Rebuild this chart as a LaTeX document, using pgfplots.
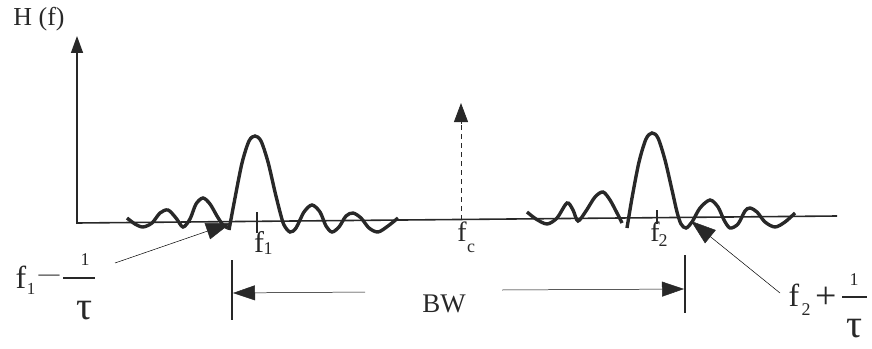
\documentclass[border=0pt]{standalone}
\usepackage{fontspec}
\setmainfont{Liberation Serif}
\usepackage{pgfplots}
\pgfplotsset{compat=1.18}
\usetikzlibrary{arrows.meta}
\definecolor{ink}{RGB}{40,40,40}
\definecolor{thin}{RGB}{140,140,140}
\newcommand{\fs}[1]{\fontsize{#1}{#1}\selectfont}
\begin{document}
\begin{tikzpicture}
\begin{axis}[
  scale only axis, width=872bp, height=349bp,
  xmin=0, xmax=872, ymin=0, ymax=349, y dir=reverse,
  hide axis, clip=false,
]
% baseline and y axis
\addplot[ink, line width=1.6pt] coordinates {(77,223) (837,216)};
\addplot[ink, line width=1.5pt, -{Triangle[length=17bp,width=12bp]}] coordinates {(77,224) (77,36)};
% f_c dashed arrow
\addplot[ink, line width=0.8pt, dash pattern=on 5bp off 4bp] coordinates {(461,220) (461,122)};
\addplot[ink, line width=0.8pt, -{Triangle[length=19bp,width=14bp]}] coordinates {(461,124) (461,103)};
% ticks
\addplot[ink, line width=1.2pt] coordinates {(257,212) (257,233)};
\addplot[ink, line width=1.2pt] coordinates {(657,210) (657,224)};
% left response
\addplot[ink, line width=3.4pt, smooth] coordinates {(127,218) (135,224) (143,227) (152,223) (160,213) (168,210) (176,218) (183,227) (190,219) (196,204) (203,198) (210,204) (217,216) (223,225) (228,228)};
\addplot[ink, line width=3.4pt, smooth] coordinates {(229,230) (235,198) (242,163) (249,141) (255,136) (261,141) (268,162) (275,192) (280,212) (284,225) (290,232) (296,228) (304,212) (312,205) (320,212) (326,226) (332,232) (339,227) (346,216) (353,213) (361,218) (369,228) (378,232) (388,226) (398,218)};
% right response
\addplot[ink, line width=3.4pt, smooth] coordinates {(527,212) (536,219) (547,224) (557,218) (567,203) (573,210) (578,221) (586,211) (595,197) (603,192) (610,200) (617,213) (622,223)};
\addplot[ink, line width=3.4pt, smooth] coordinates {(627,228) (632,198) (639,162) (646,139) (652,133) (658,138) (665,160) (672,190) (677,212) (681,224) (686,228) (692,222) (700,208) (710,200) (718,207) (724,220) (730,228) (738,224) (745,211) (750,208) (757,212) (765,222) (775,227) (785,222) (795,213)};
% BW
\addplot[ink, line width=1.3pt] coordinates {(232,260) (232,320)};
\addplot[ink, line width=1.3pt] coordinates {(685,255) (685,313)};
\addplot[thin, line width=0.5pt, -{Triangle[length=22bp,width=15bp,color=ink]}] coordinates {(365,292) (233,293)};
\addplot[thin, line width=0.5pt, -{Triangle[length=22bp,width=15bp,color=ink]}] coordinates {(502,290) (684,289)};
% pointer arrows
\addplot[thin, line width=0.5pt, -{Triangle[length=25bp,width=17bp,color=ink]}] coordinates {(115,263) (231,223)};
\addplot[thin, line width=0.5pt, -{Triangle[length=25bp,width=17bp,color=ink]}] coordinates {(780,293) (691,221)};
% fraction bars
\addplot[ink, line width=1.3pt] coordinates {(63,278) (95,278)};
\addplot[ink, line width=1.3pt] coordinates {(842,297) (867,297)};
% labels
\node[text=ink] at (axis cs:39,19) {\fs{26}H (f)};
\node[text=ink] at (axis cs:259,242) {\fs{30}f};
\node[text=ink] at (axis cs:268,249) {\fs{18}1};
\node[text=ink] at (axis cs:655,232) {\fs{28}f};
\node[text=ink] at (axis cs:663,241) {\fs{18}2};
\node[text=ink] at (axis cs:462,232) {\fs{28}f};
\node[text=ink] at (axis cs:471,248) {\fs{18}c};
\node[text=ink] at (axis cs:444,304) {\fs{27}BW};
\node[text=ink] at (axis cs:21,277) {\fs{32}f};
\node[text=ink, inner sep=0pt] at (axis cs:31,289) {\fs{17}1};
\node[text=ink, inner sep=0pt] at (axis cs:49,278) {\fs{21}—};
\node[text=ink] at (axis cs:85,260) {\fs{18}1};
\node[text=ink] at (axis cs:85,311) {\fs{40}τ};
\node[text=ink] at (axis cs:794,295) {\fs{32}f};
\node[text=ink] at (axis cs:806,310) {\fs{18}2};
\node[text=ink] at (axis cs:826,298) {\fs{38}+};
\node[text=ink] at (axis cs:854,280) {\fs{18}1};
\node[text=ink] at (axis cs:854,329) {\fs{40}τ};
\end{axis}
\pgfresetboundingbox
\path (current axis.south west) rectangle (current axis.north east);
\end{tikzpicture}
\end{document}
